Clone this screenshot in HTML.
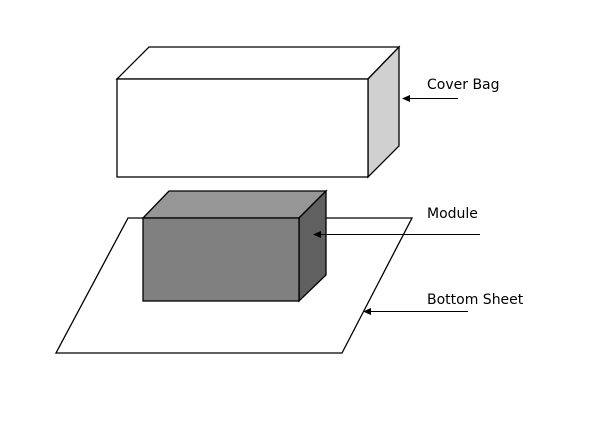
<!DOCTYPE html>
<html><head><style>html,body{margin:0;padding:0;background:#fff}svg{display:block}</style></head>
<body>
<svg width="600" height="444" viewBox="0 0 600 444" xmlns="http://www.w3.org/2000/svg">
<rect width="600" height="444" fill="#fff"/>
<g stroke="#000" stroke-width="1.3" stroke-linejoin="miter">
<polygon points="117,79 149,47 399,47 368,79" fill="#fff"/>
<polygon points="368,79 399,47 399,146 368,177" fill="#d0d0d0"/>
<rect x="117" y="79" width="251" height="98" fill="#fff"/>
<polygon points="128,218 412,218 342,353 56,353" fill="#fff"/>
<polygon points="143,218 169,191 326,191 299,218" fill="#969696"/>
<polygon points="299,218 326,191 326,275 299,301" fill="#606060"/>
<rect x="143" y="218" width="156" height="83" fill="#808080"/>
</g>
<g stroke="#000" stroke-width="1">
<line x1="458" y1="98.5" x2="408" y2="98.5"/>
<line x1="480" y1="234.5" x2="318" y2="234.5"/>
<line x1="468" y1="311.5" x2="368" y2="311.5"/>
</g>
<g fill="#000">
<polygon points="402,98.5 410,95 410,102"/>
<polygon points="313,234.5 321,231 321,238"/>
<polygon points="363,311.5 371,308 371,315"/>
</g>
<g font-family="DejaVu Sans, sans-serif" font-size="14" fill="#000">
<text x="427" y="89">Cover Bag</text>
<text x="427" y="218">Module</text>
<text x="427" y="304">Bottom Sheet</text>
</g>
</svg>
</body></html>
